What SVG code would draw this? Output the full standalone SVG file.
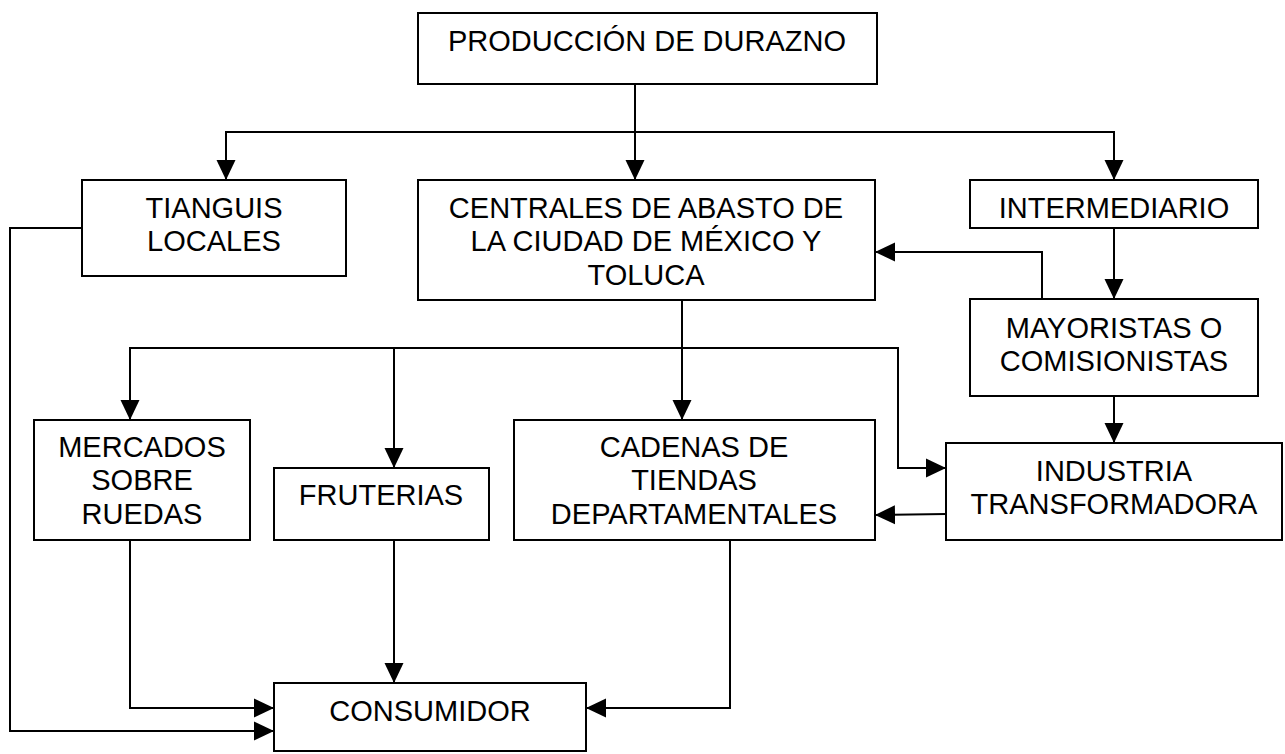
<svg xmlns="http://www.w3.org/2000/svg" width="1285" height="754" viewBox="0 0 1285 754">
<style>
.box{fill:#fff;stroke:#000;stroke-width:2}
.t{font-family:"Liberation Sans",Arial,sans-serif;font-size:29px;fill:#000;text-anchor:middle}
.c{fill:none;stroke:#000;stroke-width:2}
</style>
<defs>
<marker id="ah" markerUnits="userSpaceOnUse" markerWidth="20" markerHeight="20" refX="20" refY="9.5" orient="auto" viewBox="0 0 20 19">
<path d="M0,0 L20,9.5 L0,19 z" fill="#000"/>
</marker>
</defs>
<rect width="1285" height="754" fill="#fff"/>
<g id="connectors">
<path class="c" d="M635,84 V180" marker-end="url(#ah)"/>
<path class="c" d="M226,180 V132 H1114 V180" marker-end="url(#ah)"/>
<path class="c" d="M226,132 V180" marker-end="url(#ah)"/>
<path class="c" d="M82,228 H10 V731 H274" marker-end="url(#ah)"/>
<path class="c" d="M130,540 V708 H274" marker-end="url(#ah)"/>
<path class="c" d="M394,540 V683" marker-end="url(#ah)"/>
<path class="c" d="M730,540 V708 H586" marker-end="url(#ah)"/>
<path class="c" d="M682,300 V420" marker-end="url(#ah)"/>
<path class="c" d="M130,420 V348 H898 V468 H946" marker-end="url(#ah)"/>
<path class="c" d="M130,348 V420" marker-end="url(#ah)"/>
<path class="c" d="M394,348 V468" marker-end="url(#ah)"/>
<path class="c" d="M1114,228 V299" marker-end="url(#ah)"/>
<path class="c" d="M1042,299 V252 H875" marker-end="url(#ah)"/>
<path class="c" d="M1114,396 V443" marker-end="url(#ah)"/>
<path class="c" d="M946,514 L875,515" marker-end="url(#ah)"/>
</g>
<g id="produccion">
<rect class="box" x="418" y="13" width="459" height="71"/>
<text class="t" x="647" y="51">PRODUCCIÓN DE DURAZNO</text>
</g>
<g id="tianguis">
<rect class="box" x="82" y="180" width="264" height="96"/>
<text class="t" x="214" y="218">TIANGUIS</text>
<text class="t" x="214" y="251">LOCALES</text>
</g>
<g id="centrales">
<rect class="box" x="418" y="180" width="457" height="120"/>
<text class="t" x="646" y="218">CENTRALES DE ABASTO DE</text>
<text class="t" x="646" y="251">LA CIUDAD DE MÉXICO Y</text>
<text class="t" x="646" y="285">TOLUCA</text>
</g>
<g id="intermediario">
<rect class="box" x="970" y="180" width="288" height="48"/>
<text class="t" x="1114" y="218">INTERMEDIARIO</text>
</g>
<g id="mayoristas">
<rect class="box" x="970" y="299" width="288" height="97"/>
<text class="t" x="1114" y="338">MAYORISTAS O</text>
<text class="t" x="1114" y="371">COMISIONISTAS</text>
</g>
<g id="mercados">
<rect class="box" x="34" y="420" width="216" height="120"/>
<text class="t" x="142" y="457">MERCADOS</text>
<text class="t" x="142" y="490">SOBRE</text>
<text class="t" x="142" y="524">RUEDAS</text>
</g>
<g id="fruterias">
<rect class="box" x="274" y="468" width="215" height="72"/>
<text class="t" x="381" y="505">FRUTERIAS</text>
</g>
<g id="cadenas">
<rect class="box" x="514" y="420" width="361" height="120"/>
<text class="t" x="694" y="457">CADENAS DE</text>
<text class="t" x="694" y="490">TIENDAS</text>
<text class="t" x="694" y="524">DEPARTAMENTALES</text>
</g>
<g id="industria">
<rect class="box" x="946" y="443" width="336" height="97"/>
<text class="t" x="1114" y="481">INDUSTRIA</text>
<text class="t" x="1114" y="514">TRANSFORMADORA</text>
</g>
<g id="consumidor">
<rect class="box" x="274" y="683" width="312" height="68"/>
<text class="t" x="430" y="721">CONSUMIDOR</text>
</g>
</svg>
